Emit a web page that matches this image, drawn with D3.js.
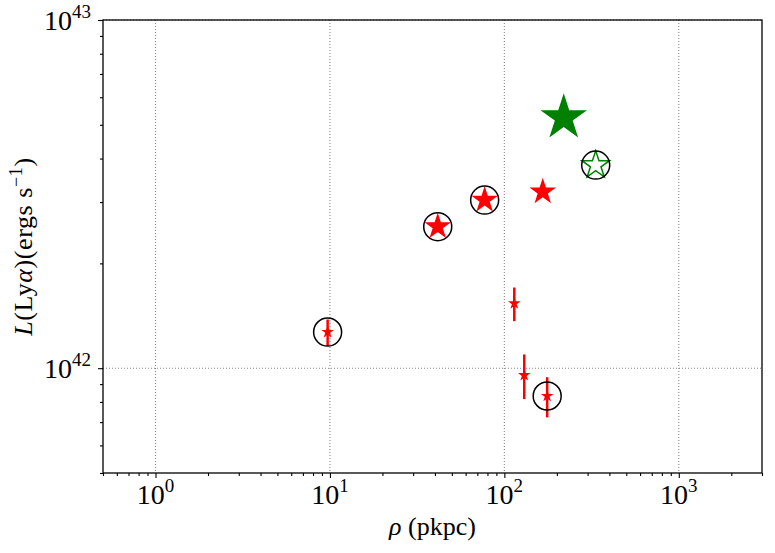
<!DOCTYPE html>
<html>
<head>
<meta charset="utf-8">
<script src="https://cdn.jsdelivr.net/npm/d3@7"></script>
<style>
  body { margin: 0; background: #fff; }
  text { font-family: "Liberation Serif", "DejaVu Serif", serif; fill: #000; }
</style>
</head>
<body>
<div id="chart"></div>
<script>
// small stars with error bars
const rhoErr = [9.7, 114, 130, 176];
const lyaErr = [1.27e42, 1.535e42, 9.55e41, 8.32e41];
const lyaSig = [0.11e42, 0.17e42, 0.14e42, 0.11e42];

// bigger red stars
const rhoRed = [41.5, 77.1, 166];
const lyaRed = [2.55e42, 3.04e42, 3.21e42];

// green stars
const rhoGreenFilled = [219];
const lyaGreenFilled = [5.24e42];
const rhoGreenOpen = [334];
const lyaGreenOpen = [3.83e42];

// circled points
const rhoCircle = [9.7, 41.5, 77.1, 176, 334];
const lyaCircle = [1.27e42, 2.55e42, 3.04e42, 8.32e41, 3.83e42];

// axis ticks
const xMajor = [1, 10, 100, 1000];
const xExp = ['0', '1', '2', '3'];
const yMajor = [1e42, 1e43];
const yExp = ['42', '43'];

const width = 775, height = 553;
const margin = {top: 20, right: 13, bottom: 80, left: 103};
const w = width - margin.left - margin.right,
      h = height - margin.top - margin.bottom;

const x = d3.scaleLog().domain([0.5, 3000]).range([0, w]);
const y = d3.scaleLog().domain([5e41, 1e43]).range([h, 0]);

const svg = d3.select('#chart').append('svg')
    .attr('width', width)
    .attr('height', height);

const g = svg.append('g')
    .attr('transform', 'translate(' + margin.left + ',' + margin.top + ')');

// minor tick values
function minors(scale) {
  const [a, b] = scale.domain();
  const out = [];
  for (let e = Math.floor(Math.log10(a)); e <= Math.ceil(Math.log10(b)); e++) {
    for (let k = 2; k <= 9; k++) {
      const v = k * Math.pow(10, e);
      if (v >= a && v <= b) out.push(v);
    }
  }
  return out;
}

// grid
g.selectAll('.gx').data(xMajor).enter().append('line')
    .attr('x1', d => x(d)).attr('x2', d => x(d))
    .attr('y1', 0).attr('y2', h)
    .style('stroke', '#888').style('stroke-width', 1.1)
    .style('stroke-dasharray', '1,2');
g.selectAll('.gy').data(yMajor).enter().append('line')
    .attr('y1', d => y(d)).attr('y2', d => y(d))
    .attr('x1', 0).attr('x2', w)
    .style('stroke', '#888').style('stroke-width', 1.1)
    .style('stroke-dasharray', '1,2');

// axes
const xAxis = g.append('g').attr('transform', 'translate(0,' + h + ')');
xAxis.call(d3.axisBottom(x).tickValues(minors(x)).tickSize(3).tickFormat(''));
xAxis.append('g').call(d3.axisBottom(x).tickValues(xMajor).tickSize(5).tickFormat(''));

const yAxis = g.append('g');
yAxis.call(d3.axisLeft(y).tickValues(minors(y)).tickSize(3).tickFormat(''));
yAxis.append('g').call(d3.axisLeft(y).tickValues(yMajor).tickSize(5).tickFormat(''));

g.selectAll('.domain').remove();
g.selectAll('.tick line').style('stroke', '#000').style('stroke-width', 1.1);

// frame
g.append('rect')
    .attr('width', w).attr('height', h)
    .style('fill', 'none').style('stroke', '#000').style('stroke-width', 1.3);

// tick labels
const xl = g.selectAll('.xl').data(xMajor).enter().append('text')
    .attr('x', d => x(d))
    .attr('y', h + 31)
    .attr('text-anchor', 'middle')
    .style('font-size', '28px');
xl.append('tspan').text('10');
xl.append('tspan').attr('dy', -12).style('font-size', '19px').text((d, i) => xExp[i]);

const yl = g.selectAll('.yl').data(yMajor).enter().append('text')
    .attr('x', -12)
    .attr('y', d => y(d) + 10)
    .attr('text-anchor', 'end')
    .style('font-size', '28px');
yl.append('tspan').text('10');
yl.append('tspan').attr('dy', -12).style('font-size', '19px').text((d, i) => yExp[i]);

// axis titles
const xt = svg.append('text')
    .attr('x', margin.left + w / 2)
    .attr('y', 535)
    .attr('text-anchor', 'middle')
    .style('font-size', '26px');
xt.append('tspan').style('font-style', 'italic').text('ρ');
xt.append('tspan').text(' (pkpc)');

const yt = svg.append('text')
    .attr('transform', 'translate(32,' + (margin.top + h / 2) + ') rotate(-90)')
    .attr('text-anchor', 'middle')
    .style('font-size', '26px')
    .style('letter-spacing', '0.6px');
yt.append('tspan').style('font-style', 'italic').text('L');
yt.append('tspan').text('(Ly');
yt.append('tspan').style('font-style', 'italic').text('α');
yt.append('tspan').text(')(ergs s');
yt.append('tspan').attr('dy', -10).style('font-size', '18px').text('−1');
yt.append('tspan').attr('dy', 10).text(')');

// star of outer radius R
const star = R => d3.symbol().type(d3.symbolStar).size(R * R / 0.8908130915292852)();

const errData = rhoErr.map((r, i) => ({r: r, l: lyaErr[i], s: lyaSig[i]}));

// error bars
g.selectAll('.err').data(errData).enter().append('line')
    .attr('x1', d => x(d.r)).attr('x2', d => x(d.r))
    .attr('y1', d => y(d.l - d.s)).attr('y2', d => y(d.l + d.s))
    .style('stroke', 'red').style('stroke-width', 2.5);

g.selectAll('.sstar').data(errData).enter().append('path')
    .attr('d', star(6.6))
    .attr('transform', d => 'translate(' + x(d.r) + ',' + y(d.l) + ')')
    .style('fill', 'red');

// red stars
g.selectAll('.rstar').data(rhoRed).enter().append('path')
    .attr('d', star(14))
    .attr('transform', (d, i) => 'translate(' + x(d) + ',' + y(lyaRed[i]) + ')')
    .style('fill', 'red');

// green stars
g.selectAll('.gstar').data(rhoGreenFilled).enter().append('path')
    .attr('d', star(24.5))
    .attr('transform', (d, i) => 'translate(' + x(d) + ',' + y(lyaGreenFilled[i]) + ')')
    .style('fill', 'green');

g.selectAll('.ostar').data(rhoGreenOpen).enter().append('path')
    .attr('d', star(14.5))
    .attr('transform', (d, i) => 'translate(' + x(d) + ',' + y(lyaGreenOpen[i]) + ')')
    .style('fill', 'none').style('stroke', 'green').style('stroke-width', 1.5);

// circles
g.selectAll('.circ').data(rhoCircle).enter().append('circle')
    .attr('cx', d => x(d))
    .attr('cy', (d, i) => y(lyaCircle[i]))
    .attr('r', 14)
    .style('fill', 'none').style('stroke', '#000').style('stroke-width', 1.5);
</script>
</body>
</html>
